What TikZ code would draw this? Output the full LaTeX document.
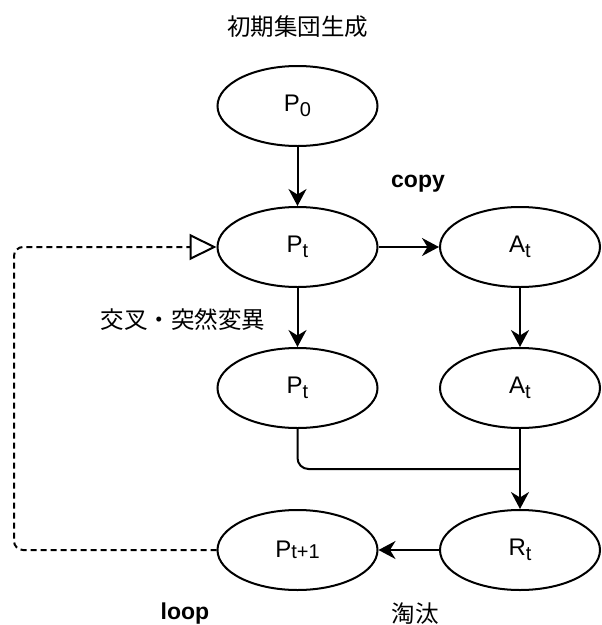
\documentclass[tikz,border=0pt]{standalone}
\usepackage{fontspec}
\setmainfont{Liberation Sans}
\newfontfamily\cjk{Noto Sans CJK JP}
\usetikzlibrary{arrows.meta,shapes.geometric}
\tikzset{
  ell/.style={ellipse, draw, line width=2pt, minimum width=160pt, minimum height=80pt, inner sep=0pt, font=\fontsize{24}{25}\selectfont},
  arr/.style={line width=2pt, -{Stealth[length=17pt,width=18pt,inset=5.5pt]}},
  lbl/.style={font=\cjk\fontsize{23.5}{25}\selectfont, inner sep=0pt},
  blbl/.style={font=\bfseries\fontsize{23}{25}\selectfont, inner sep=0pt},
}
\newcommand{\sbt}[1]{\raisebox{-4.5pt}{\fontsize{20}{20}\selectfont #1}}
\begin{document}
\begin{tikzpicture}[x=1pt,y=-1pt]
\useasboundingbox (0,0) rectangle (602,625);
\node[lbl] (title) at (297.5,27) {初期集団生成};
\node[ell] (P0) at (297.5,106) {P\sbt{0}};
\node[ell] (Pt) at (297.5,247) {P\sbt{t}};
\node[ell] (At) at (520,247) {A\sbt{t}};
\node[ell] (Pt2) at (297.5,388) {P\sbt{t}};
\node[ell] (At2) at (520,388) {A\sbt{t}};
\node[ell] (Pn) at (297.5,550) {P\raisebox{-1.5pt}{\fontsize{20}{20}\selectfont t+1}};
\node[ell] (Rt) at (520,550) {R\sbt{t}};
\node[blbl] (copy) at (418,184) {copy};
\node[lbl] (cross) at (183,320) {交叉・突然変異};
\node[blbl] (loop) at (185,614) {loop};
\node[lbl] (sel) at (415,614) {淘汰};
\coordinate (j) at (520,469);
\coordinate (lc) at (14,400);
\draw[arr] (P0) -- (Pt);
\draw[arr] (Pt) -- (At);
\draw[arr] (Pt) -- (Pt2);
\draw[arr] (At) -- (At2);
\draw[line width=2pt, rounded corners=11pt] (Pt2.south) |- (j);
\draw[arr] (At2) -- (Rt);
\draw[arr] (Rt) -- (Pn);
\draw[line width=2pt, dash pattern=on 6pt off 4pt, rounded corners=9pt, -{Triangle[open,length=27pt,width=26pt,line width=2pt]}] (Pn.west) -| (lc) |- (Pt.west);
\end{tikzpicture}
\end{document}
